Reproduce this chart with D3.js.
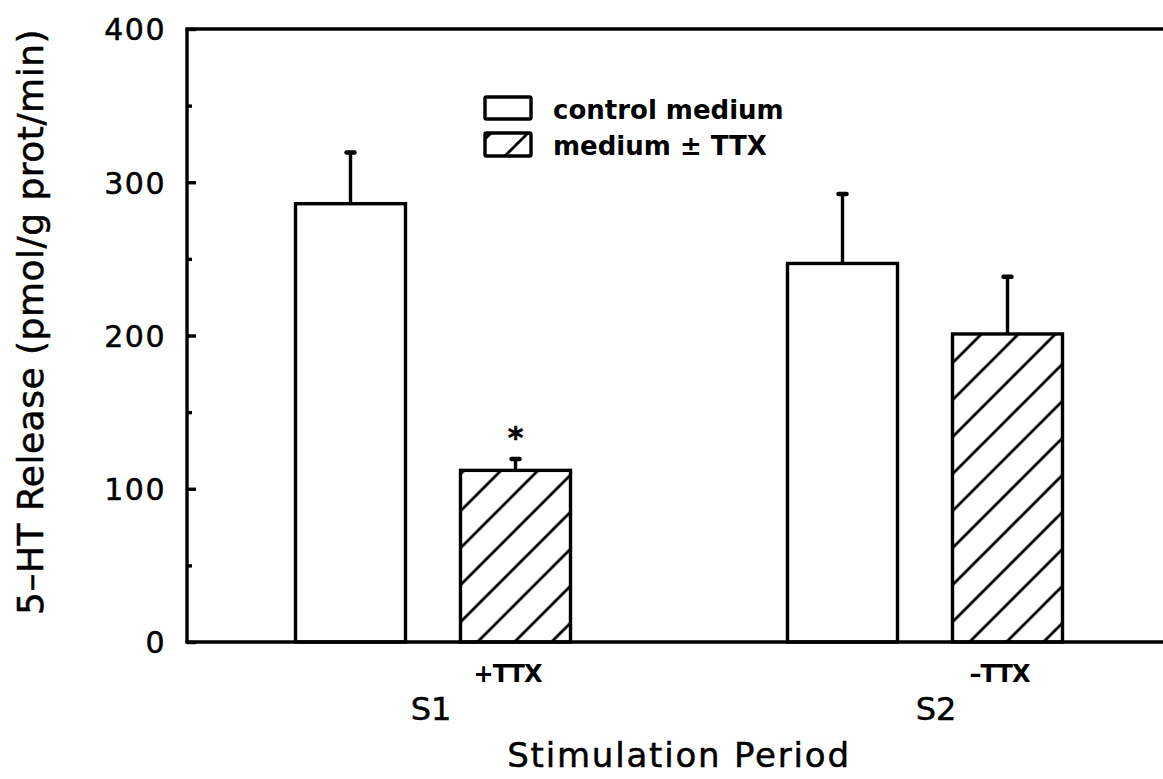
<!DOCTYPE html>
<html>
<head>
<meta charset="utf-8">
<script src="https://cdn.jsdelivr.net/npm/d3@7"></script>
<style>
  html, body { margin: 0; padding: 0; background: #fff; }
  svg { display: block; }
  text { font-family: "DejaVu Sans", sans-serif; fill: #000; }
  .heavy { stroke: #000; stroke-width: 0.5px; }
</style>
</head>
<body>
<svg id="chart" width="1163" height="779"></svg>
<script>
// Stimulation periods and treatment series
const periods = ["S1", "S2"];
const seriesNames = ["control medium", "medium ± TTX"];
const treatmentLabels = ["+TTX", "–TTX"];

// 5-HT release means and SEM (pmol/g prot/min)
const controlMeans = [286, 247];
const controlSem = [34, 46];
const ttxMeans = [112, 201];
const ttxSem = [8, 38];
const significant = [true, false];

const yTicksMajor = [0, 100, 200, 300, 400];
const yTicksMinor = [50, 150, 250, 350];

const svg = d3.select("#chart");
const W = 1163, H = 779;
const margin = { left: 187, top: 29, bottom: 137 };
const LINE = 3.4;

const y = d3.scaleLinear().domain([0, 400]).range([H - margin.bottom, margin.top]);

const xGroup = d3.scaleBand().domain(periods).range([margin.left, margin.left + 2 * 492]).padding(0);
const xSeries = d3.scaleBand().domain(seriesNames)
  .range([108.5, 383.5]).paddingInner(1 / 3).paddingOuter(0);

const rows = [];
periods.forEach((p, i) => {
  rows.push({ period: p, series: seriesNames[0], mean: controlMeans[i], sem: controlSem[i], hatched: false, idx: i });
  rows.push({ period: p, series: seriesNames[1], mean: ttxMeans[i], sem: ttxSem[i], hatched: true, idx: i,
              label: treatmentLabels[i], star: significant[i] });
});
rows.forEach(d => {
  d.x0 = xGroup(d.period) + xSeries(d.series);
  d.w = xSeries.bandwidth();
  d.cx = d.x0 + d.w / 2;
});

const defs = svg.append("defs");
function hatchPattern(id, ox, oy) {
  const p = defs.append("pattern")
    .attr("id", id)
    .attr("patternUnits", "userSpaceOnUse")
    .attr("x", ox).attr("y", oy)
    .attr("width", 37).attr("height", 37);
  p.append("rect").attr("width", 37).attr("height", 37).attr("fill", "#fff");
  p.append("path")
    .attr("d", "M-5,42 L42,-5 M-6,6 L6,-6 M31,43 L43,31")
    .attr("stroke", "#000").attr("stroke-width", 2.8).attr("fill", "none");
  return `url(#${id})`;
}

// Error bars (drawn first so the bar outline covers the stem base)
const err = svg.append("g").attr("stroke", "#000").attr("fill", "none");
rows.forEach(d => {
  err.append("line")
    .attr("x1", d.cx).attr("x2", d.cx)
    .attr("y1", y(d.mean)).attr("y2", y(d.mean + d.sem))
    .attr("stroke-width", LINE);
  err.append("line")
    .attr("x1", d.cx - 4).attr("x2", d.cx + 4)
    .attr("y1", y(d.mean + d.sem) + 1).attr("y2", y(d.mean + d.sem) + 1)
    .attr("stroke-width", 4.5).attr("stroke-linecap", "round");
});

// Bars
const bars = svg.append("g");
rows.forEach((d, i) => {
  const fill = d.hatched ? hatchPattern("hatch" + i, d.x0 + 17, y(0)) : "#fff";
  bars.append("rect")
    .attr("x", d.x0).attr("y", y(d.mean))
    .attr("width", d.w).attr("height", y(0) - y(d.mean))
    .attr("fill", fill).attr("stroke", "#000").attr("stroke-width", LINE);
});

// Significance marker
rows.filter(d => d.star).forEach(d => {
  svg.append("text")
    .attr("class", "heavy")
    .attr("x", d.cx).attr("y", y(d.mean + d.sem) - 10)
    .attr("text-anchor", "middle")
    .attr("font-size", 30).attr("font-weight", "bold")
    .text("*");
});

// Frame lines: left axis, bottom axis, top border
const frame = svg.append("g").attr("stroke", "#000").attr("stroke-width", LINE).attr("fill", "none");
frame.append("line").attr("x1", margin.left).attr("x2", margin.left).attr("y1", y(400)).attr("y2", y(0));
frame.append("line").attr("x1", margin.left - 1.7).attr("x2", W).attr("y1", y(0)).attr("y2", y(0));
frame.append("line").attr("x1", margin.left - 1.7).attr("x2", W).attr("y1", y(400)).attr("y2", y(400));

// Y axis ticks (pointing inward)
const yAxis = svg.append("g").attr("transform", `translate(${margin.left},0)`)
  .call(d3.axisLeft(y).tickValues(yTicksMajor).tickSize(-9).tickPadding(21).tickFormat(d3.format("d")));
yAxis.select(".domain").remove();
yAxis.selectAll(".tick line").attr("stroke", "#000").attr("stroke-width", LINE);
yAxis.selectAll(".tick text")
  .attr("class", "heavy")
  .attr("font-family", "DejaVu Sans").attr("font-size", 30)
  .attr("letter-spacing", 1.5).attr("dy", "0.36em").attr("fill", "#000");

const yMinor = svg.append("g").attr("transform", `translate(${margin.left},0)`)
  .call(d3.axisLeft(y).tickValues(yTicksMinor).tickSize(-5).tickFormat(""));
yMinor.select(".domain").remove();
yMinor.selectAll(".tick line").attr("stroke", "#000").attr("stroke-width", LINE);

// Treatment labels under hatched bars
rows.filter(d => d.label).forEach(d => {
  svg.append("text")
    .attr("x", d.cx - 8).attr("y", y(0) + 40)
    .attr("text-anchor", "middle")
    .attr("font-size", 24).attr("font-weight", "bold")
    .attr("letter-spacing", -1)
    .text(d.label);
});

// Period labels
periods.forEach(p => {
  svg.append("text")
    .attr("class", "heavy")
    .attr("x", xGroup(p) + xGroup.bandwidth() / 2 + (p === "S1" ? -2 : 11))
    .attr("y", y(0) + 78)
    .attr("text-anchor", "middle")
    .attr("font-size", 32)
    .text(p);
});

// Axis titles
svg.append("text")
  .attr("class", "heavy")
  .attr("x", (xGroup("S1") + xGroup("S2") + xGroup.bandwidth()) / 2)
  .attr("y", 767)
  .attr("text-anchor", "middle")
  .attr("font-size", 34).attr("letter-spacing", 1.8)
  .text("Stimulation Period");

svg.append("text")
  .attr("class", "heavy")
  .attr("transform", "translate(43,322) rotate(-90)")
  .attr("text-anchor", "middle")
  .attr("font-size", 36).attr("letter-spacing", 0.5)
  .text("5–HT Release (pmol/g prot/min)");

// Legend
const legend = svg.append("g");
const legendRows = [
  { name: seriesNames[0], hatched: false, y: 97, h: 22, base: 119 },
  { name: seriesNames[1], hatched: true, y: 133, h: 23, base: 155 }
];
legendRows.forEach((r, i) => {
  const fill = r.hatched ? hatchPattern("legendHatch" + i, 485 + 20, r.y + r.h) : "#fff";
  legend.append("rect")
    .attr("x", 485).attr("y", r.y).attr("width", 46).attr("height", r.h)
    .attr("fill", fill).attr("stroke", "#000").attr("stroke-width", LINE).attr("rx", 1.5);
  legend.append("text")
    .attr("x", 553).attr("y", r.base)
    .attr("font-size", 26).attr("font-weight", "bold")
    .text(r.name);
});
</script>
</body>
</html>
